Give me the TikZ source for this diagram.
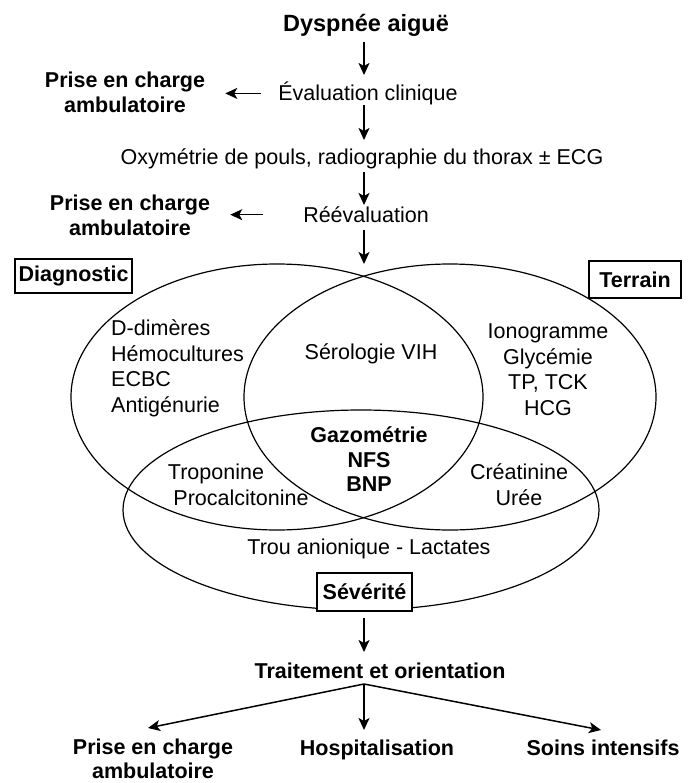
\documentclass[tikz,border=0pt]{standalone}
\usepackage{fontspec}
\setmainfont{Liberation Sans}
\usetikzlibrary{arrows.meta}
\begin{document}
\begin{tikzpicture}[x=1pt,y=-1pt,
  txt/.style={font=\fontsize{21.5}{25.5}\selectfont, inner sep=2pt},
  bld/.style={font=\fontsize{21.5}{25.5}\selectfont\bfseries, inner sep=2pt},
  arr/.style={line width=1.5pt, -{Stealth[length=12pt,width=11pt,inset=3pt]}},
  lbox/.style={draw, line width=1.3pt, font=\fontsize{21.5}{25.5}\selectfont\bfseries, inner sep=0pt},
  venn/.style={line width=1.2pt}]
\useasboundingbox (0,0) rectangle (693,783);

% Venn ellipses
\draw[venn] (277,397) ellipse [x radius=206pt, y radius=133pt];
\draw[venn] (450,397) ellipse [x radius=206pt, y radius=133pt];
\draw[venn] (361,510) ellipse [x radius=238pt, y radius=100pt];

% top flow
\node[font=\fontsize{23.5}{28}\selectfont\bfseries, inner sep=2pt, anchor=base] (title) at (366,31.5) {Dyspnée aiguë};
\node[txt, anchor=base] (eval) at (368,100.5) {Évaluation clinique};
\node[bld, align=center] (pec1) at (125,92.5) {Prise en charge\\ambulatoire};
\node[txt, anchor=base] (oxy) at (362,164.5) {Oxymétrie de pouls, radiographie du thorax ± ECG};
\node[txt, anchor=base] (reeval) at (366,222.5) {Réévaluation};
\node[bld, align=center] (pec2) at (130,215.5) {Prise en charge\\ambulatoire};

% Venn labels
\node[lbox, minimum width=117pt, minimum height=34pt] (diag) at (73.5,276) {Diagnostic};
\node[lbox, minimum width=92pt, minimum height=37pt] (terr) at (635,279.5) {Terrain};
\node[txt, align=left, anchor=west] (ddim) at (109,368.5) {D-dimères\\Hémocultures\\ECBC\\Antigénurie};
\node[txt, anchor=base] (sero) at (371,359.5) {Sérologie VIH};
\node[txt, align=center] (iono) at (548,369.5) {Ionogramme\\Glycémie\\TP, TCK\\HCG};
\node[font=\fontsize{21.5}{24.5}\selectfont\bfseries, inner sep=2pt, align=center] (gaz) at (369,459.5) {Gazométrie\\NFS\\BNP};
\node[txt, anchor=base] (tropo) at (216,479.5) {Troponine};
\node[txt, anchor=base] (procal) at (241,505.5) {Procalcitonine};
\node[txt, align=center] (creat) at (519,484.5) {Créatinine\\Urée};
\node[txt, anchor=base] (trou) at (369,554.5) {Trou anionique - Lactates};
\node[lbox, fill=white, minimum width=95pt, minimum height=38pt] (sev) at (364.5,592) {Sévérité};

% bottom
\node[bld, anchor=base] (trait) at (380,678.5) {Traitement et orientation};
\node[font=\fontsize{21.5}{24.5}\selectfont\bfseries, inner sep=0pt, align=center] (pec3) at (153,759) {Prise en charge\\ambulatoire};
\node[bld, anchor=base] (hosp) at (377,755.5) {Hospitalisation};
\node[bld, anchor=base] (soins) at (603,755.5) {Soins intensifs};

% connectors
\coordinate (col) at (364,0);
\draw[arr, shorten <=10.5pt, shorten >=25.5pt] (title.base -| col) -- (eval.base -| col);
\draw[arr, shorten <=5pt, shorten >=24.5pt] (eval.base -| col) -- (oxy.base -| col);
\draw[arr, shorten <=7.5pt, shorten >=17.5pt] (oxy.base -| col) -- (reeval.base -| col);
\coordinate (vtop) at (364,264);
\draw[arr, shorten <=7.5pt] (reeval.base -| col) -- (vtop);
\draw[arr, shorten <=15pt, shorten >=18pt] (eval.west) -- (eval.west -| pec1.east);
\draw[arr, shorten <=38pt, shorten >=18pt] (reeval.west) -- (reeval.west -| pec2.east);
\draw[arr, shorten <=6pt, shorten >=26.5pt] (sev.south -| col) -- (trait.base -| col);
\coordinate (fork) at (364,684);
\coordinate (t1) at (148,728);
\coordinate (t2) at (364,730);
\coordinate (t3) at (601,730);
\draw[arr] (fork) -- (t1);
\draw[arr] (fork) -- (t2);
\draw[arr] (fork) -- (t3);
\end{tikzpicture}
\end{document}
